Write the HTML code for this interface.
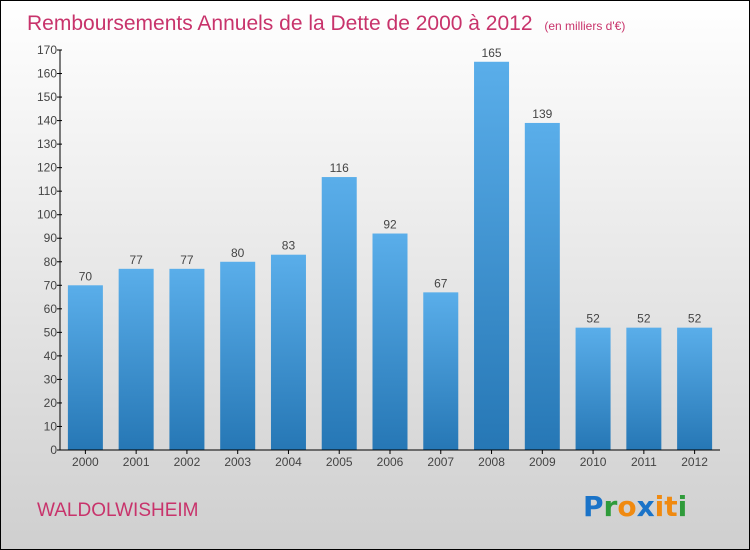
<!DOCTYPE html>
<html><head><meta charset="utf-8"><style>
body{margin:0}
#c{position:relative;width:748px;height:548px;border:1px solid #000;background:linear-gradient(#ffffff,#cfcfcf);font-family:"Liberation Sans",sans-serif;overflow:hidden}
</style></head><body>
<div id="c">
<svg id="s" width="748" height="548">
<defs><linearGradient id="g" x1="0" y1="0" x2="0" y2="1"><stop offset="0" stop-color="#5aaeea"/><stop offset="1" stop-color="#2677b5"/></linearGradient></defs>
<text x="26" y="29" font-size="21" fill="#c8336b">Remboursements Annuels de la Dette de 2000 à 2012 <tspan font-size="12" dx="6">(en milliers d'€)</tspan></text>
<text x="36" y="515" font-size="19" fill="#c8336b">WALDOLWISHEIM</text>
<g font-size="28" font-weight="bold" font-family="DejaVu Sans, sans-serif">
<text x="582" y="515"><tspan fill="#1a73c8">P</tspan><tspan fill="#2f9b3a">r</tspan><tspan fill="#f08a10">o</tspan><tspan fill="#1a73c8">x</tspan><tspan fill="#f08a10">i</tspan><tspan fill="#f08a10">t</tspan><tspan fill="#2f9b3a">i</tspan></text></g>
<g id="plot"></g>
</svg></div>
<script>
const categories=["2000","2001","2002","2003","2004","2005","2006","2007","2008","2009","2010","2011","2012"];
const values=[70,77,77,80,83,116,92,67,165,139,52,52,52];
const yTicks=[0,10,20,30,40,50,60,70,80,90,100,110,120,130,140,150,160,170];
const x0=59,x1=719,y0=449,y1=49,ymax=170;
const band=(x1-x0)/categories.length;
const Y=v=>y0-(v/ymax)*(y0-y1);
const X=i=>x0+band*(i+0.5);
const ns="http://www.w3.org/2000/svg",p=document.getElementById('plot');
function mk(t,a,txt){const e=document.createElementNS(ns,t);for(const k in a)e.setAttribute(k,a[k]);if(txt!==undefined)e.textContent=txt;p.appendChild(e);return e;}
values.forEach((v,i)=>{
const r=mk('rect',{x:X(i)-17.5,y:Y(v),width:35,height:y0-Y(v),fill:'url(#g)'});


const t=mk('text',{x:X(i),y:Y(v)-5,'text-anchor':'middle','font-size':12,fill:'#444'},v);


const c=mk('text',{x:X(i),y:y0+16,'text-anchor':'middle','font-size':12,fill:'#444'},categories[i]);


mk('line',{x1:X(i),x2:X(i),y1:y0,y2:y0+4,stroke:'#000'});
});
yTicks.forEach(v=>{
mk('line',{x1:x0-3,x2:x0+2,y1:Y(v),y2:Y(v),stroke:'#000'});
const t=mk('text',{x:x0-3,y:Y(v)+4,'text-anchor':'end','font-size':12,fill:'#444'},v);


});
const ya=mk('line',{x1:x0,x2:x0,y1:y1,y2:y0,stroke:'#000'});


const xa=mk('line',{x1:x0,x2:x1,y1:y0,y2:y0,stroke:'#000'});


</script>
</body></html>
